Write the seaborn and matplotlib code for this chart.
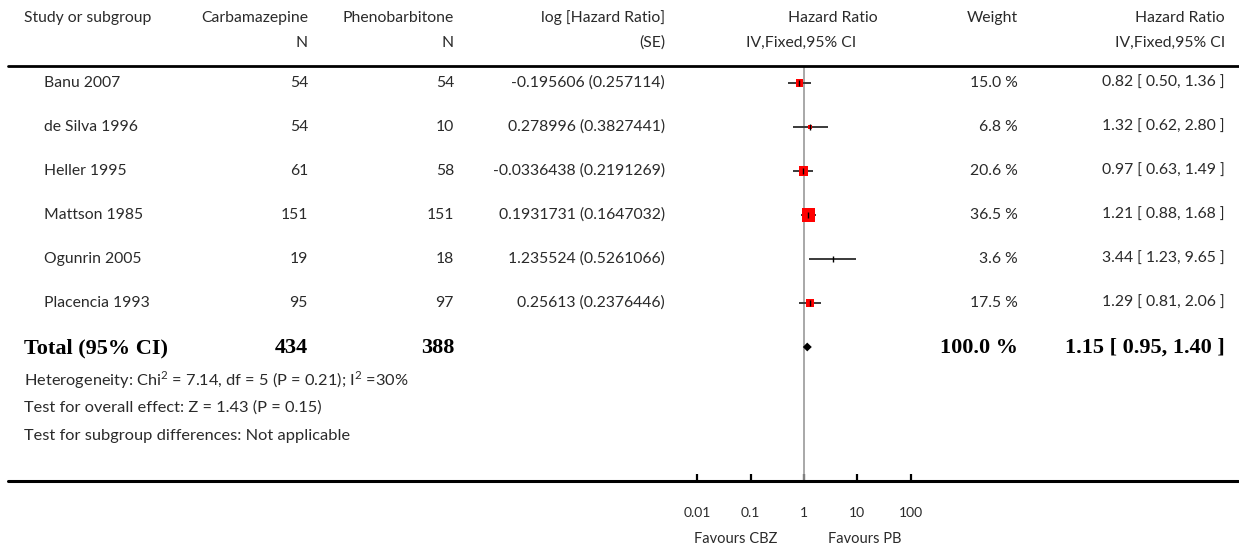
import numpy as np
import pandas as pd
import matplotlib
matplotlib.use("Agg")
import matplotlib.pyplot as plt
import seaborn as sns
from matplotlib.lines import Line2D

# ---------------- data ----------------
studies = ["Banu 2007", "de Silva 1996", "Heller 1995", "Mattson 1985", "Ogunrin 2005", "Placencia 1993"]
n_cbz = [54, 54, 61, 151, 19, 95]
n_pb = [54, 10, 58, 151, 18, 97]
log_hr_se = ["-0.195606 (0.257114)", "0.278996 (0.3827441)", "-0.0336438 (0.2191269)",
             "0.1931731 (0.1647032)", "1.235524 (0.5261066)", "0.25613 (0.2376446)"]
weights = [15.0, 6.8, 20.6, 36.5, 3.6, 17.5]
hr = [0.82, 1.32, 0.97, 1.21, 3.44, 1.29]
hr_lo = [0.50, 0.62, 0.63, 0.88, 1.23, 0.81]
hr_hi = [1.36, 2.80, 1.49, 1.68, 9.65, 2.06]
total_n_cbz = 434
total_n_pb = 388
total_hr = 1.15
total_lo = 0.95
total_hi = 1.40
tick_values = [0.01, 0.1, 1, 10, 100]
tick_labels = ["0.01", "0.1", "1", "10", "100"]
footnotes = [
    "Heterogeneity: Chi$^{2}$ = 7.14, df = 5 (P = 0.21); I$^{2}$ =30%",
    "Test for overall effect: Z = 1.43 (P = 0.15)",
    "Test for subgroup differences: Not applicable",
]
favours = ["Favours CBZ", "Favours PB"]

df = pd.DataFrame({"study": studies, "hr": hr, "lo": hr_lo, "hi": hr_hi,
                   "weight": weights, "row": np.arange(len(studies))})

# ---------------- figure ----------------
sns.set_theme(style="white")
plt.rcParams["font.family"] = ["Lato", "DejaVu Sans"]
plt.rcParams["mathtext.fontset"] = "custom"
plt.rcParams["mathtext.rm"] = "Lato"

W, H = 1239, 548
fig = plt.figure(figsize=(W / 100, H / 100), dpi=100)
fig.patch.set_facecolor("white")


def fx(px):
    return px / W


def fy(py):
    return 1 - py / H


FS = 11.3
TXT = "#2a2a2a"


def t(x, y, s, ha="left", **kw):
    kw.setdefault("fontsize", FS)
    kw.setdefault("color", TXT)
    fig.text(fx(x), fy(y), s, ha=ha, va="center", **kw)


XL = 24      # left margin for headers / total / footnotes
XS = 44      # study names
XN1, XN2 = 308, 454
XLOG = 665
XW = 1018
XHR = 1225

# header
t(XL, 18, "Study or subgroup")
t(XN1, 18, "Carbamazepine", ha="right")
t(XN1, 43, "N", ha="right")
t(XN2, 18, "Phenobarbitone", ha="right")
t(XN2, 43, "N", ha="right")
t(XLOG, 18, "log [Hazard Ratio]", ha="right")
t(XLOG, 43, "(SE)", ha="right")
t(878, 18, "Hazard Ratio", ha="right")
t(856, 43, "IV,Fixed,95% CI", ha="right")
t(XW, 18, "Weight", ha="right")
t(XHR, 18, "Hazard Ratio", ha="right")
t(XHR, 43, "IV,Fixed,95% CI", ha="right")

# rows
row0, dy = 83, 44
for i in range(len(studies)):
    y = row0 + dy * i
    t(XS, y, studies[i])
    t(XN1, y, str(n_cbz[i]), ha="right")
    t(XN2, y, str(n_pb[i]), ha="right")
    t(XLOG, y, log_hr_se[i], ha="right")
    t(XW, y, f"{weights[i]:.1f} %", ha="right")
    t(XHR, y, f"{hr[i]:.2f} [ {hr_lo[i]:.2f}, {hr_hi[i]:.2f} ]", ha="right")

# total row
ytot = row0 + dy * len(studies) + 1
serif = dict(family=["Liberation Serif", "DejaVu Serif"], fontweight="bold", fontsize=16, color="black")
t(XL, ytot, "Total (95% CI)", **serif)
t(XN1, ytot, str(total_n_cbz), ha="right", **serif)
t(XN2, ytot, str(total_n_pb), ha="right", **serif)
t(XW, ytot, f"{sum(weights):.1f} %", ha="right", **serif)
t(XHR, ytot, f"{total_hr:.2f} [ {total_lo:.2f}, {total_hi:.2f} ]", ha="right", **serif)

for k, s in enumerate(footnotes):
    t(XL, 380 + 28 * k, s, fontsize=11.8)

# horizontal rules
fig.add_artist(Line2D([fx(8), fx(1239)], [fy(66), fy(66)], color="black", lw=2.0))
fig.add_artist(Line2D([fx(8), fx(1238)], [fy(481), fy(481)], color="black", lw=2.2))

# ---------------- forest axes ----------------
x_left, x_right, y_top, y_bot = 680, 930, 66, 481
ax = fig.add_axes([fx(x_left), fy(y_bot), (x_right - x_left) / W, (y_bot - y_top) / H])
ax.set_facecolor("none")
ax.set_xscale("log")
ppd = 53.3  # pixels per decade
ax.set_xlim(10 ** ((x_left - 804) / ppd), 10 ** ((x_right - 804) / ppd))
ax.set_ylim((y_bot - row0) / dy, (y_top - row0) / dy)

ax.axvline(1, color="#9a9a9a", lw=1.2, zorder=1)
ax.hlines(df["row"], df["lo"], df["hi"], color="#3a3a3a", lw=1.4, zorder=2)
sns.scatterplot(data=df, x="hr", y="row", size="weight", sizes=(0, 88), marker="s",
                color="red", linewidth=0, legend=False, ax=ax, zorder=3)
ax.scatter(df["hr"], df["row"], marker="|", s=16, color="black", linewidths=1.0, zorder=4)

# total diamond
ry = len(studies)
h = 0.1
ax.fill([total_lo, total_hr, total_hi, total_hr], [ry, ry - h, ry, ry + h],
        color="black", zorder=4, lw=0)

for sp in ax.spines.values():
    sp.set_visible(False)
ax.set_yticks([])
ax.set_xticks(tick_values)
ax.set_xticklabels(tick_labels)
ax.minorticks_off()
ax.tick_params(axis="x", which="major", direction="in", length=5, width=1.6,
               color="black", pad=19, labelsize=10, labelcolor=TXT, bottom=True)
ax.set_xlabel("")
ax.set_ylabel("")

t(736, 539, favours[0], ha="center", fontsize=10.5)
t(865, 539, favours[1], ha="center", fontsize=10.5)

fig.savefig("out.png", dpi=100, facecolor="white")
